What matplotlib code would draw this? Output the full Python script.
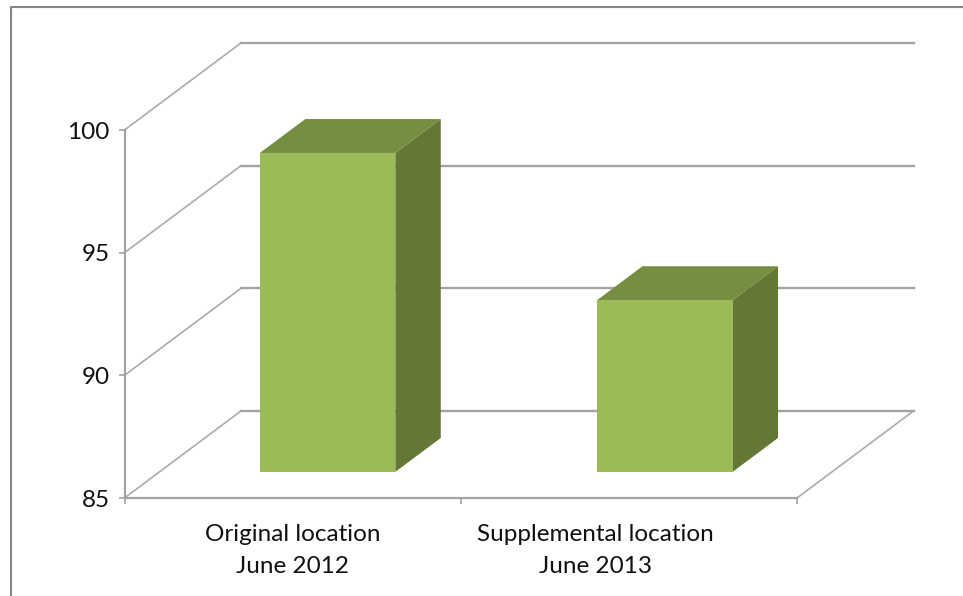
import matplotlib
matplotlib.use("Agg")
import matplotlib.pyplot as plt
from matplotlib.lines import Line2D

plt.rcParams['font.family'] = ['Lato', 'DejaVu Sans']

W, H = 963, 596

categories = ['Original location\nJune 2012', 'Supplemental location\nJune 2013']
values = [98, 92]
y_ticks = [85, 90, 95, 100]
x_ticks = [0, 1, 2]

label_pos = [0.5, 1.4]
bar_pos = [0.5, 1.503]

# oblique projection of the 3d box, in data units
depth_x = 116.5 / 336.25
depth_y = 87 / 24.53
bar_front = 0.30
bar_back = 0.69
bar_width = 0.403

GRID = '#a3a3a3'
FRONT = '#9bbb59'
TOP = '#768e42'
SIDE = '#647836'


def project(x, v, d):
    return x + d * depth_x, v + d * depth_y


def face(ax, pts, color):
    xs = [project(*p)[0] for p in pts]
    ys = [project(*p)[1] for p in pts]
    ax.fill(xs, ys, color=color, lw=0, clip_on=False, zorder=3)


def draw_bar(ax, x, v, base):
    x0, x1 = x - bar_width / 2, x + bar_width / 2
    d0, d1 = bar_front, bar_back
    face(ax, [(x1, base, d0), (x1, base, d1), (x1, v, d1), (x1, v, d0)], SIDE)
    face(ax, [(x0, v, d0), (x1, v, d0), (x1, v, d1), (x0, v, d1)], TOP)
    face(ax, [(x0, base, d0), (x1, base, d0), (x1, v, d0), (x0, v, d0)], FRONT)


fig = plt.figure(figsize=(W / 100, H / 100), dpi=100)
ax = fig.add_axes([124.5 / W, (H - 498) / H, 672.5 / W, 368 / H])
ax.patch.set_visible(False)
ax.set_xlim(x_ticks[0], x_ticks[-1])
ax.set_ylim(y_ticks[0], y_ticks[-1])

# walls and floor behind the bars
for v in y_ticks:
    xs, ys = zip(project(0, v, 0), project(0, v, 1), project(2, v, 1))
    ax.plot(xs[:2], ys[:2], color='#ababab', lw=1.2, clip_on=False, zorder=1)
    ax.plot(xs[1:], ys[1:], color=GRID, lw=1.7, clip_on=False, zorder=1)
xs, ys = zip(project(2, y_ticks[0], 0), project(2, y_ticks[0], 1))
ax.plot(xs, ys, color='#ababab', lw=1.2, clip_on=False, zorder=1)

for x, v in zip(bar_pos, values):
    draw_bar(ax, x, v, y_ticks[0])

for side in ['top', 'right']:
    ax.spines[side].set_visible(False)
for side in ['left', 'bottom']:
    ax.spines[side].set_color(GRID)
    ax.spines[side].set_linewidth(1.6)
    ax.spines[side].set_zorder(2)

ax.set_yticks(y_ticks)
ax.set_xticks(x_ticks, labels=[])
ax.set_xticks(label_pos, labels=categories, minor=True)
ax.tick_params(axis='y', length=4.5, width=1.2, color=GRID, labelsize=17.5, pad=6, labelcolor='#111111')
ax.tick_params(axis='x', which='major', length=4.5, width=1.2, color=GRID)
ax.tick_params(axis='x', which='minor', length=0, labelsize=17.5, pad=18.5, labelcolor='#111111')
for lab in ax.get_xticklabels(minor=True):
    lab.set_linespacing(1.65)

# frame around the chart, open at the right and bottom
fig.add_artist(Line2D([11 / W, 11 / W, 1], [0, 1 - 7 / H, 1 - 7 / H], color='#868686', lw=1.5))

fig.savefig('out.png', dpi=100)
